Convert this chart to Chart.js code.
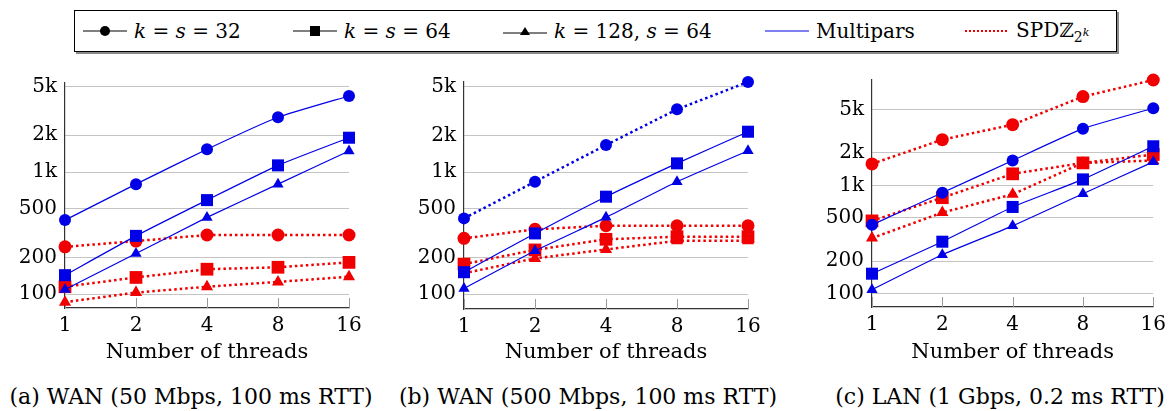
<!DOCTYPE html>
<html>
<head>
<meta charset="utf-8">
<script src="https://cdn.jsdelivr.net/npm/chart.js@4.4.1/dist/chart.umd.min.js"></script>
<style>
  body { margin: 0; width: 1172px; height: 411px; background: #fff; position: relative; font-family: "DejaVu Serif", serif; overflow: hidden; }
  .panel { position: absolute; }
  .legend { position: absolute; left: 74px; top: 10px; width: 1041px; height: 40px; border: 1px solid #000; box-shadow: 2px 2px 0 #8a8a8a; }
  .item { position: absolute; top: 0; height: 40px; display: flex; align-items: center; font-size: 20px; white-space: nowrap; }
  .item svg { margin-right: 7px; }
  .caption { position: absolute; top: 384px; font-size: 22px; text-align: center; white-space: nowrap; }
  i { font-style: italic; }
</style>
</head>
<body>
<div class="legend">
  <div class="item" style="left:8px"><svg width="44" height="14"><line x1="0" y1="7" x2="44" y2="7" stroke="#000" stroke-width="1.2"/><circle cx="22" cy="7" r="5" fill="#000"/></svg><span><i>k</i> = <i>s</i> = 32</span></div>
  <div class="item" style="left:218px"><svg width="44" height="14"><line x1="0" y1="7" x2="44" y2="7" stroke="#000" stroke-width="1.2"/><rect x="17" y="2" width="10" height="10" fill="#000"/></svg><span><i>k</i> = <i>s</i> = 64</span></div>
  <div class="item" style="left:428px"><svg width="44" height="14"><line x1="0" y1="9" x2="44" y2="9" stroke="#000" stroke-width="1.2"/><polygon points="22,3 27,11 17,11" fill="#000"/></svg><span><i>k</i> = 128, <i>s</i> = 64</span></div>
  <div class="item" style="left:690px"><svg width="44" height="14"><line x1="0" y1="7" x2="44" y2="7" stroke="#0000e6" stroke-width="1.2"/></svg><span>Multipars</span></div>
  <div class="item" style="left:890px"><svg width="44" height="14"><line x1="0" y1="7" x2="44" y2="7" stroke="#f00000" stroke-width="2" stroke-dasharray="2,2"/></svg><span>SPDℤ<sub style="font-size:14px">2<sup style="font-size:11px"><i>k</i></sup></sub></span></div>
</div>

<div class="panel" style="left:0px;top:60px;width:375px;height:310px"><canvas id="c1"></canvas></div>
<div class="panel" style="left:385px;top:60px;width:385px;height:310px"><canvas id="c2"></canvas></div>
<div class="panel" style="left:785px;top:60px;width:387px;height:310px"><canvas id="c3"></canvas></div>

<div class="caption" style="left:0px;width:382px">(a) WAN (50 Mbps, 100 ms RTT)</div>
<div class="caption" style="left:398px;width:380px">(b) WAN (500 Mbps, 100 ms RTT)</div>
<div class="caption" style="left:828px;width:344px">(c) LAN (1 Gbps, 0.2 ms RTT)</div>

<script>
// thread counts on the x axis
const threads = ['1', '2', '4', '8', '16'];
const yTicks = [100, 200, 500, 1000, 2000, 5000];

// (a) WAN 50 Mbps
const wan50Multi32 = [404, 796, 1535, 2807, 4198];
const wan50Multi64 = [143, 300, 589, 1134, 1910];
const wan50Multi128 = [109, 215, 425, 796, 1486];
const wan50Spdz32 = [244, 272, 305, 305, 305];
const wan50Spdz64 = [115, 137, 160, 166, 182];
const wan50Spdz128 = [86, 103, 115, 126, 139];

// (b) WAN 500 Mbps
const wan500Multi32 = [417, 833, 1664, 3266, 5470];
const wan500Multi64 = [151, 314, 628, 1178, 2140];
const wan500Multi128 = [111, 226, 425, 833, 1496];
const wan500Spdz32 = [286, 339, 363, 363, 363];
const wan500Spdz64 = [176, 230, 281, 295, 295];
const wan500Spdz128 = [148, 196, 232, 273, 273];

// (c) LAN 1 Gbps
const lanMulti32 = [432, 855, 1695, 3334, 5150];
const lanMulti64 = [153, 302, 632, 1135, 2294];
const lanMulti128 = [109, 229, 423, 837, 1648];
const lanSpdz32 = [1578, 2642, 3630, 6594, 9380];
const lanSpdz64 = [470, 769, 1277, 1611, 1925];
const lanSpdz128 = [326, 561, 827, 1611, 1695];

Chart.defaults.font.family = '"DejaVu Serif", serif';
Chart.defaults.color = '#000';

const BLUE = '#0000e6';
const RED = '#f00000';

// short inward tick marks on the x axis, like pgfplots
const innerTicks = {
    id: 'innerTicks',
    beforeDatasetsDraw(chart) {
        const x = chart.scales.x;
        const ctx = chart.ctx;
        const bottom = chart.chartArea.bottom;
        ctx.save();
        ctx.strokeStyle = '#999';
        ctx.lineWidth = 1;
        x.ticks.forEach((t, i) => {
            const px = Math.round(x.getPixelForTick(i)) + 0.5;
            ctx.beginPath();
            ctx.moveTo(px, bottom);
            ctx.lineTo(px, bottom - 10);
            ctx.stroke();
        });
        ctx.restore();
    }
};

function line(data, color, shape, dotted, radius) {
    return {
        data: data,
        borderColor: color,
        backgroundColor: color,
        borderWidth: dotted ? 2.5 : 1.2,
        borderDash: dotted ? [2.5, 3] : [],
        tension: dotted ? 0 : 0.15,
        pointStyle: shape,
        pointRadius: radius,
        pointBorderWidth: 0,
        clip: false,
        order: color === BLUE ? 1 : 2
    };
}

function makePanel(id, s, opt) {
    const datasets = [
        line(s[0], BLUE, 'circle', opt.dottedMulti32, 6),
        line(s[1], BLUE, 'rect', false, 8.5),
        line(s[2], BLUE, 'triangle', false, 6.5),
        line(s[3], RED, 'circle', true, 6.5),
        line(s[4], RED, 'rect', true, 9),
        line(s[5], RED, 'triangle', true, 7)
    ];
    new Chart(document.getElementById(id), {
        type: 'line',
        data: { labels: threads, datasets: datasets },
        plugins: [innerTicks],
        options: {
            responsive: true,
            maintainAspectRatio: false,
            animation: false,
            layout: { padding: { top: opt.top, right: opt.right, left: 0, bottom: 0 } },
            plugins: { legend: { display: false }, tooltip: { enabled: false } },
            scales: {
                x: {
                    offset: false,
                    grid: { display: false, drawTicks: false },
                    border: { display: true, color: '#333', width: 1.2 },
                    ticks: { font: { size: 20 }, padding: 6, maxRotation: 0 },
                    title: { display: true, text: 'Number of threads', font: { size: 21 }, padding: { top: 0, bottom: 5 } },
                    afterFit: sc => { sc.height = opt.xh; }
                },
                y: {
                    type: 'logarithmic',
                    min: opt.min,
                    max: opt.max,
                    grid: { color: '#c4c4c4', lineWidth: 1, drawTicks: false, tickLength: 0 },
                    border: { display: true, color: '#333', width: 1.2 },
                    afterBuildTicks: sc => { sc.ticks = yTicks.map(v => ({ value: v })); },
                    ticks: {
                        font: { size: 20 },
                        padding: 8,
                        callback: v => v >= 1000 ? (v / 1000) + 'k' : String(v)
                    },
                    afterFit: sc => { sc.width = opt.yw; }
                }
            }
        }
    });
}

makePanel('c1', [wan50Multi32, wan50Multi64, wan50Multi128, wan50Spdz32, wan50Spdz64, wan50Spdz128],
    { min: 77, max: 5360, top: 23, right: 26, yw: 65, xh: 62, dottedMulti32: false });
makePanel('c2', [wan500Multi32, wan500Multi64, wan500Multi128, wan500Spdz32, wan500Spdz64, wan500Spdz128],
    { min: 75.4, max: 5470, top: 22, right: 22, yw: 79, xh: 61, dottedMulti32: true });
makePanel('c3', [lanMulti32, lanMulti64, lanMulti128, lanSpdz32, lanSpdz64, lanSpdz128],
    { min: 75.4, max: 9380, top: 18, right: 16, yw: 87, xh: 63, dottedMulti32: false });
</script>
</body>
</html>
